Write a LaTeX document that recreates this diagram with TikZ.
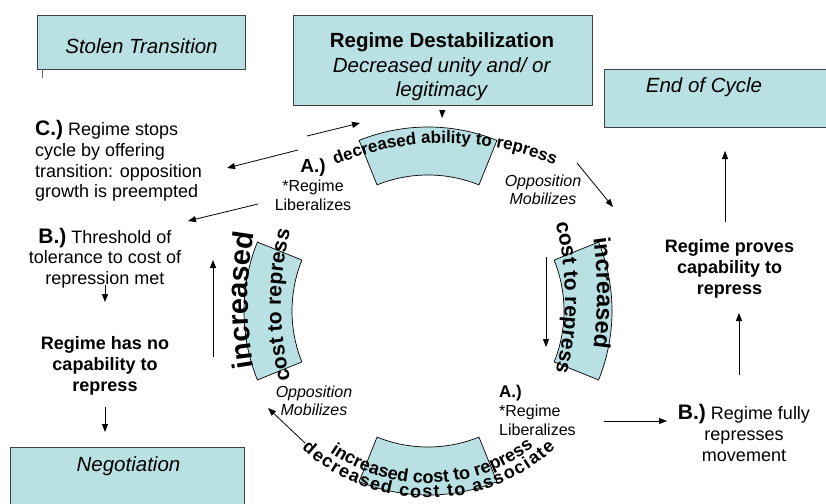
\documentclass[tikz,border=0pt]{standalone}
\usepackage{fontspec}
\setmainfont{Liberation Sans}
\usetikzlibrary{arrows.meta,decorations.text,calc}
\definecolor{boxfill}{RGB}{185,224,226}
\begin{document}
\begin{tikzpicture}[x=1pt,y=1pt,
  box/.style={draw=black!75, line width=0.9pt, fill=boxfill, inner sep=0pt, outer sep=0pt},
  wedge/.style={draw=black, line width=0.7pt, fill=boxfill},
  arr/.style={line width=0.8pt, -{Triangle[length=8pt,width=6pt]}},
  lbl/.style={inner sep=0pt, align=center, font=\fontsize{18}{20.7}\selectfont},
  lblb/.style={inner sep=0pt, align=center, font=\bfseries\fontsize{18}{20.7}\selectfont},
  sml/.style={inner sep=0pt, align=center, font=\fontsize{16}{19}\selectfont},
  smli/.style={inner sep=0pt, align=center, font=\itshape\fontsize{16}{18.5}\selectfont},
  big/.style={inner sep=0pt, align=center, font=\fontsize{20.5}{24.5}\selectfont},
  bigi/.style={inner sep=0pt, align=center, font=\itshape\fontsize{20.5}{24.5}\selectfont},
  arctext/.style={decorate, decoration={text along path, text align=center, text={#1}}},
  arcfit/.style={decorate, decoration={text along path, text align=fit to path, text={#1}}},
]
\useasboundingbox (0,0) rectangle (826,-503);

% boxes
\node[box, minimum width=208pt, minimum height=54pt] (stolen) at (141,-42) {};
\node[box, minimum width=299pt, minimum height=90pt] (destab) at (442.5,-60) {};
\node[box, minimum width=226pt, minimum height=58pt] (endc) at (717,-98) {};
\node[box, minimum width=234pt, minimum height=62pt] (neg) at (127,-478) {};

\node[bigi] (stolenT) at (141.5,-46) {Stolen Transition};
\node[big] (destT) at (442,-67) {\textbf{Regime Destabilization}\\\textit{Decreased unity and/ or}\\\textit{legitimacy}};
\node[bigi] (endcT) at (704,-87) {End of Cycle};
\node[bigi] (negT) at (128.5,-466) {Negotiation};

% ring
\coordinate (C) at (428,-311);
\draw[wedge] ($(C)+(68:136)$) arc[start angle=68, end angle=112, radius=136] -- ($(C)+(112:184)$) arc[start angle=112, end angle=68, radius=184] -- cycle;
\draw[wedge] ($(C)+(248:136)$) arc[start angle=248, end angle=292, radius=136] -- ($(C)+(292:184)$) arc[start angle=292, end angle=248, radius=184] -- cycle;
\draw[wedge] ($(C)+(158:136)$) arc[start angle=158, end angle=202, radius=136] -- ($(C)+(202:184)$) arc[start angle=202, end angle=158, radius=184] -- cycle;
\draw[wedge] ($(C)+(-22:136)$) arc[start angle=-22, end angle=22, radius=136] -- ($(C)+(22:184)$) arc[start angle=22, end angle=-22, radius=184] -- cycle;

% curved texts
\path[arctext={|\bfseries\fontsize{17}{17}\selectfont|decreased ability to repress}]
  ($(445,-428)+(117:285)$) arc[start angle=117, end angle=63, radius=285];
\path[arctext={|\bfseries\fontsize{29}{29}\selectfont|increased}]
  ($(648,-300)+(190.1:400)$) arc[start angle=190.1, end angle=169.9, radius=400];
\path[arctext={|\bfseries\fontsize{21}{21}\selectfont|cost to repress}]
  ($(581,-305)+(196.5:300)$) arc[start angle=196.5, end angle=163.5, radius=300];
\path[arctext={|\bfseries\fontsize{23.5}{23.5}\selectfont|increased}]
  ($(197,-293)+(10.1:400)$) arc[start angle=10.1, end angle=-10.1, radius=400];
\path[arctext={|\bfseries\fontsize{21}{21}\selectfont|cost to repress}]
  ($(265,-297.5)+(16.5:300)$) arc[start angle=16.5, end angle=-16.5, radius=300];
\path[arctext={|\bfseries\fontsize{18}{18}\selectfont|increased cost to repress}]
  ($(C)+(228:172)$) arc[start angle=228, end angle=315, radius=172];
\path[arcfit={|\bfseries\fontsize{18}{18}\selectfont|decreased cost to associate}]
  ($(C)+(227.5:187)$) arc[start angle=227.5, end angle=313, radius=187];

% text blocks
\node[lbl, align=left, anchor=west] (ctext) at (35,-161) {{\fontsize{21}{20.7}\selectfont\textbf{C.)}} Regime stops\\cycle by offering\\transition: opposition\\growth is preempted};
\node[lbl] (btext) at (105,-258) {{\fontsize{21}{20.7}\selectfont\textbf{B.)}} Threshold of\\tolerance to cost of\\repression met};
\node[lblb] (nocap) at (105,-366) {Regime has no\\capability to\\repress};
\node[sml] (atop) at (313,-185) {{\fontsize{19}{19}\selectfont\textbf{A.)}}\\{}*Regime\\Liberalizes};
\node[sml, align=left, anchor=west] (abot) at (499,-410) {{\fontsize{17}{19}\selectfont\textbf{A.)}}\\{}*Regime\\Liberalizes};
\node[smli] (opptop) at (543,-190) {Opposition\\Mobilizes};
\node[smli] (oppbot) at (314,-401) {Opposition\\Mobilizes};
\node[lblb] (proves) at (729.5,-269) {Regime proves\\capability to\\repress};
\node[lbl] (bfully) at (744,-433) {{\fontsize{21}{20.7}\selectfont\textbf{B.)}} Regime fully\\represses\\movement};

% connector end points
\coordinate (dTip) at (442,-118);
\coordinate (a1s) at (307,-136); \coordinate (a1e) at (360,-123);
\coordinate (a2s) at (298,-150); \coordinate (a2e) at (227,-168);
\coordinate (a3s) at (258,-204); \coordinate (a3e) at (188,-221);
\coordinate (a4s) at (213,-357); \coordinate (a4e) at (213,-260);
\coordinate (a5s) at (105,-285); \coordinate (a5e) at (105,-302);
\coordinate (a6s) at (105,-407); \coordinate (a6e) at (105,-432);
\coordinate (a7s) at (577,-163); \coordinate (a7e) at (613,-207);
\coordinate (a8s) at (546,-257); \coordinate (a8e) at (546,-347);
\coordinate (a9s) at (305,-443); \coordinate (a9e) at (268,-408);
\coordinate (a10s) at (604,-421); \coordinate (a10e) at (667,-421);
\coordinate (a11s) at (739,-375); \coordinate (a11e) at (739,-313);
\coordinate (a12s) at (725,-222); \coordinate (a12e) at (725,-151);
\coordinate (tickS) at (42,-69); \coordinate (tickE) at (42,-78);

\draw[arr, shorten <=5pt] (destab.south) -- (dTip);
\draw[arr] (a1s) -- (a1e);
\draw[arr] (a2s) -- (a2e);
\draw[arr] (a3s) -- (a3e);
\draw[arr] (a4s) -- (a4e);
\draw[arr] (a5s) -- (a5e);
\draw[arr] (a6s) -- (a6e);
\draw[arr] (a7s) -- (a7e);
\draw[arr] (a8s) -- (a8e);
\draw[arr] (a9s) -- (a9e);
\draw[arr] (a10s) -- (a10e);
\draw[arr] (a11s) -- (a11e);
\draw[arr] (a12s) -- (a12e);
\draw[black!60, line width=0.9pt] (tickS) -- (tickE);
\end{tikzpicture}
\end{document}
